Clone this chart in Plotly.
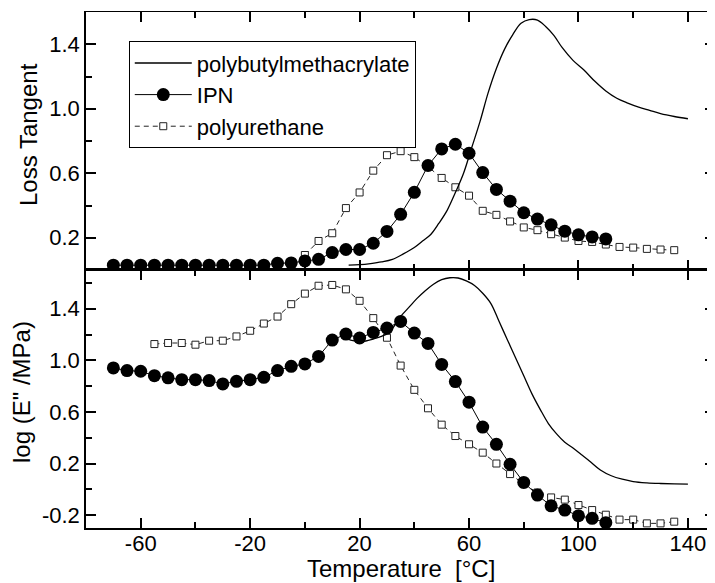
import plotly.graph_objects as go

# ---------------- data ----------------
# Top panel: Loss tangent
pbma_tan_T = [16, 20, 24, 28, 32, 36, 40, 43, 46, 49, 52, 55, 58, 61, 64, 67, 70, 73, 76, 79,
              82, 85, 88, 91, 94, 98, 102, 106, 110, 114, 118, 122, 126, 130, 135, 140]
pbma_tan = [0.03, 0.033, 0.04, 0.05, 0.066, 0.1, 0.14, 0.18, 0.22, 0.29, 0.37, 0.48, 0.6, 0.76,
            0.92, 1.1, 1.25, 1.37, 1.46, 1.53, 1.553, 1.55, 1.51, 1.455, 1.38, 1.30, 1.24, 1.17,
            1.11, 1.065, 1.035, 1.01, 0.99, 0.97, 0.952, 0.938]

ipn_T = list(range(-70, 111, 5))
ipn_tan = [0.03, 0.03, 0.03, 0.03, 0.03, 0.03, 0.03, 0.03, 0.03, 0.03,
           0.03, 0.03, 0.042, 0.044, 0.056, 0.066, 0.108, 0.127, 0.127, 0.166,
           0.239, 0.345, 0.482, 0.648, 0.751, 0.78, 0.724, 0.604, 0.5, 0.427,
           0.355, 0.316, 0.28, 0.241, 0.218, 0.205, 0.193]

pu_tan_T = list(range(0, 136, 5))
pu_tan = [0.093, 0.18, 0.228, 0.384, 0.481, 0.616, 0.712, 0.737, 0.70, 0.64,
          0.571, 0.513, 0.461, 0.367, 0.342, 0.301, 0.264, 0.247, 0.222, 0.201,
          0.18, 0.174, 0.158, 0.143, 0.139, 0.131, 0.127, 0.123]

# Bottom panel: log(E''/MPa)
pbma_logE_T = [15, 18, 21, 25, 28, 31, 35, 38, 41, 44, 47, 50, 53, 56, 59, 62, 65, 68, 71, 74,
               77, 80, 83, 86, 89, 92, 95, 98, 101, 104, 108, 112, 116, 120, 125, 130, 135, 140]
pbma_logE = [1.17, 1.15, 1.145, 1.165, 1.185, 1.22, 1.34, 1.41, 1.48, 1.54,
             1.59, 1.625, 1.64, 1.638, 1.615, 1.58, 1.52, 1.44, 1.30, 1.16,
             1.02, 0.88, 0.74, 0.62, 0.51, 0.43, 0.365, 0.32, 0.27, 0.22,
             0.15, 0.105, 0.078, 0.06, 0.05, 0.045, 0.042, 0.04]

ipn_logE = [0.941, 0.92, 0.915, 0.881, 0.864, 0.85, 0.85, 0.843, 0.817, 0.837,
            0.85, 0.868, 0.92, 0.953, 0.972, 1.03, 1.157, 1.203, 1.173, 1.216,
            1.25, 1.301, 1.211, 1.131, 0.968, 0.835, 0.675, 0.482, 0.349, 0.194,
            0.053, -0.045, -0.128, -0.161, -0.205, -0.225, -0.259]

pu_logE_T = list(range(-55, 136, 5))
pu_logE = [1.126, 1.134, 1.134, 1.121, 1.152, 1.152, 1.185, 1.229, 1.285, 1.339,
           1.435, 1.517, 1.578, 1.584, 1.55, 1.461, 1.327, 1.175, 0.959, 0.771,
           0.628, 0.501, 0.413, 0.349, 0.284, 0.2, 0.118, 0.04, -0.025, -0.063,
           -0.08, -0.122, -0.161, -0.197, -0.235, -0.235, -0.264, -0.264, -0.251]

x_ticks = [-60, -20, 20, 60, 100, 140]
x_minor = [-40, 0, 40, 80, 120]
top_ticks = [0.2, 0.6, 1.0, 1.4]
top_minor = [0.4, 0.8, 1.2]
bot_ticks = [-0.2, 0.2, 0.6, 1.0, 1.4]
bot_minor = [0.0, 0.4, 0.8, 1.2, 1.6]

x_title = "Temperature\u00a0 [\u00b0C]"
top_title = "Loss Tangent"
bot_title = 'log (E" /MPa)'

# ---------------- figure ----------------
FONT = "Liberation Sans, Arial, sans-serif"
fig = go.Figure()

pu_marker = dict(symbol="square", size=7, color="white", line=dict(color="#222", width=1))
pu_line = dict(color="#222", width=1, dash="5px,4px")
ipn_marker = dict(symbol="circle", size=13, color="black")
ipn_line = dict(color="black", width=1)
pbma_line = dict(color="black", width=1.3)

# top panel
fig.add_trace(go.Scatter(x=pu_tan_T, y=pu_tan, mode="lines+markers", name="polyurethane",
                         marker=pu_marker, line=pu_line, legendrank=3, xaxis="x", yaxis="y"))
fig.add_trace(go.Scatter(x=pbma_tan_T, y=pbma_tan, mode="lines", name="polybutylmethacrylate",
                         line=pbma_line, line_shape="spline", legendrank=1, xaxis="x", yaxis="y"))
fig.add_trace(go.Scatter(x=ipn_T, y=ipn_tan, mode="lines+markers", name="IPN",
                         marker=ipn_marker, line=ipn_line, legendrank=2, xaxis="x", yaxis="y"))
# bottom panel
fig.add_trace(go.Scatter(x=pu_logE_T, y=pu_logE, mode="lines+markers", name="polyurethane",
                         marker=pu_marker, line=pu_line, showlegend=False, xaxis="x2", yaxis="y2"))
fig.add_trace(go.Scatter(x=pbma_logE_T, y=pbma_logE, mode="lines", name="polybutylmethacrylate",
                         line=pbma_line, line_shape="spline", showlegend=False, xaxis="x2", yaxis="y2"))
fig.add_trace(go.Scatter(x=ipn_T, y=ipn_logE, mode="lines+markers", name="IPN",
                         marker=ipn_marker, line=ipn_line, showlegend=False, xaxis="x2", yaxis="y2"))

axis_common = dict(showline=True, linecolor="black", mirror="allticks",
                   ticks="inside", ticklen=10, tickwidth=1.5, tickcolor="black",
                   showgrid=False, zeroline=False, automargin=False,
                   tickfont=dict(family=FONT, size=22, color="black"))

def minor(vals):
    return dict(tickvals=vals, ticks="inside", ticklen=6, tickwidth=1.5, tickcolor="black", showgrid=False)

title_font = dict(family=FONT, size=24, color="black")

# The page body adds an 8px offset, so the figure is 8px smaller than the window.
fig.update_layout(
    width=707, height=575,
    margin=dict(l=78, r=0, t=4, b=55),
    paper_bgcolor="white", plot_bgcolor="white",
    font=dict(family=FONT, size=22, color="black"),
    xaxis=dict(domain=[0, 1], anchor="y", range=[-80, 149.9], tickvals=x_ticks,
               showticklabels=False, minor=minor(x_minor), matches="x2",
               linewidth=1.2, **axis_common),
    yaxis=dict(domain=[0.5, 1], anchor="x", range=[0, 1.6], tickvals=top_ticks,
               ticktext=[f"{v:.1f}" for v in top_ticks], minor=minor(top_minor),
               linewidth=1.5, **axis_common),
    xaxis2=dict(domain=[0, 1], anchor="y2", range=[-80, 149.9], tickvals=x_ticks,
                ticktext=[str(v) for v in x_ticks], minor=minor(x_minor),
                linewidth=1.5, ticklabelstandoff=-5, **axis_common),
    yaxis2=dict(domain=[0, 0.5], anchor="x2", range=[-0.3, 1.7], tickvals=bot_ticks,
                ticktext=[f"{v:.1f}" for v in bot_ticks], minor=minor(bot_minor),
                linewidth=1.5, **axis_common),
    legend=dict(x=0.068, y=0.9434, xanchor="left", yanchor="top",
                bordercolor="black", borderwidth=1, bgcolor="white",
                font=dict(family=FONT, size=22, color="black"),
                itemwidth=57, tracegroupgap=0),
    showlegend=True,
    annotations=[
        dict(text=x_title, xref="paper", yref="paper", x=0.5, y=0, xanchor="center",
             yanchor="middle", yshift=-40, showarrow=False, font=title_font),
        dict(text=top_title, xref="paper", yref="paper", x=0, y=0.75, xanchor="center",
             yanchor="middle", xshift=-58, yshift=6, textangle=-90, showarrow=False, font=title_font),
        dict(text=bot_title, xref="paper", yref="paper", x=0, y=0.25, xanchor="center",
             yanchor="middle", xshift=-65, yshift=7, textangle=-90, showarrow=False, font=title_font),
    ],
)

fig.write_html("out.html")
